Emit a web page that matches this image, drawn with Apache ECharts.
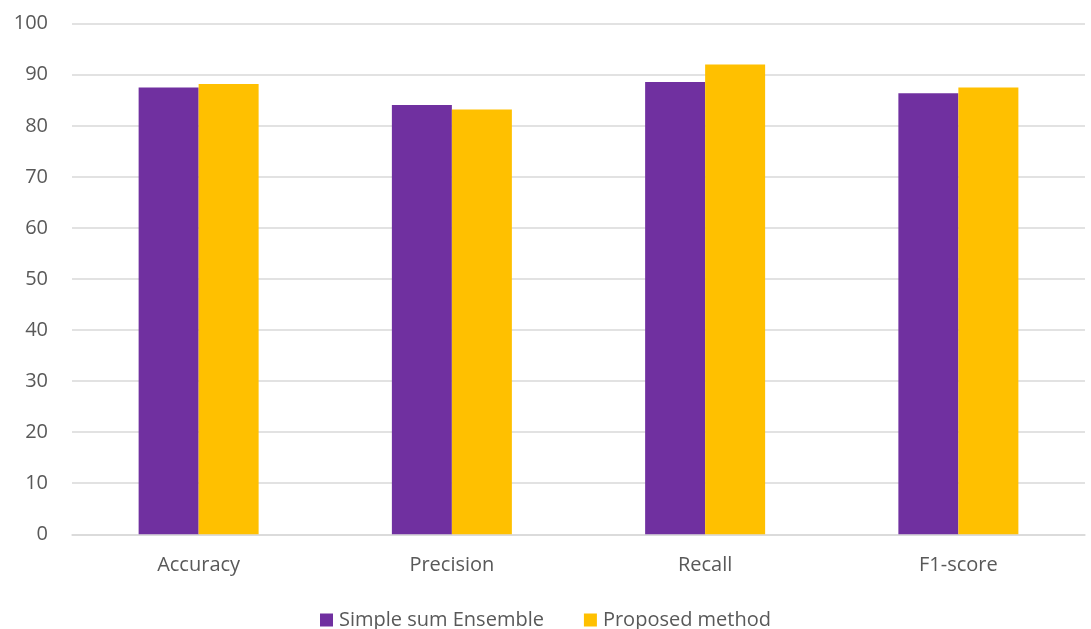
<!DOCTYPE html>
<html>
<head>
<meta charset="utf-8">
<script src="https://cdn.jsdelivr.net/npm/echarts@6/dist/echarts.min.js"></script>
<style>
  html, body { margin: 0; padding: 0; background: #fff; }
  #chart { width: 1091px; height: 629px; }
</style>
</head>
<body>
<div id="chart"></div>
<script>
const categories = ['Accuracy', 'Precision', 'Recall', 'F1-score'];
const seriesNames = ['Simple sum Ensemble', 'Proposed method'];
const simpleSum = [87.5, 84.1, 88.6, 86.4];
const proposed = [88.2, 83.2, 92.0, 87.5];

const FONT = '"Open Sans", "Noto Sans", sans-serif';
const TEXT = '#595959';

const chart = echarts.init(document.getElementById('chart'), null, { renderer: 'canvas' });
chart.setOption({
  animation: false,
  backgroundColor: '#ffffff',
  textStyle: { fontFamily: FONT },
  grid: { left: 72, right: 6, top: 23.7, bottom: 94.7, containLabel: false },
  legend: {
    top: 605,
    left: 'center',
    itemWidth: 13,
    itemHeight: 13,
    itemGap: 40,
    icon: 'rect',
    textStyle: { color: TEXT, fontSize: 20, fontFamily: FONT, padding: [0, 0, 0, 1] },
    data: seriesNames
  },
  xAxis: {
    type: 'category',
    data: categories,
    axisTick: { show: false },
    axisLine: { lineStyle: { color: '#d9d9d9', width: 1.5 } },
    axisLabel: { color: TEXT, fontSize: 20, margin: 21, fontFamily: FONT }
  },
  yAxis: {
    type: 'value',
    min: 0,
    max: 100,
    interval: 10,
    axisLine: { show: false },
    axisTick: { show: false },
    axisLabel: { color: TEXT, fontSize: 20, margin: 24, fontFamily: FONT },
    splitLine: { lineStyle: { color: '#d9d9d9', width: 1.5 } }
  },
  series: [
    {
      name: seriesNames[0],
      type: 'bar',
      data: simpleSum,
      barWidth: 60,
      barGap: '0%',
      itemStyle: { color: '#7030A0' }
    },
    {
      name: seriesNames[1],
      type: 'bar',
      data: proposed,
      barWidth: 60,
      barGap: '0%',
      itemStyle: { color: '#FFC000' }
    }
  ]
});
</script>
</body>
</html>
